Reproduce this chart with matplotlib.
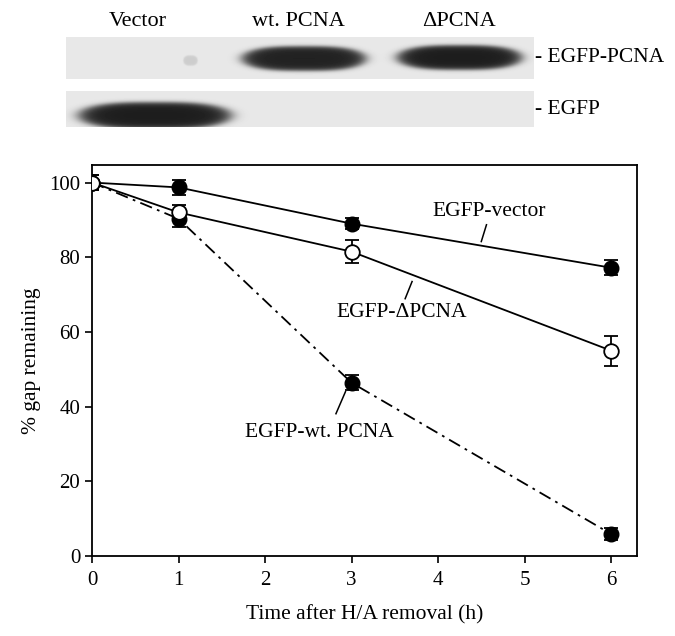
import matplotlib
matplotlib.use("Agg")
import matplotlib.pyplot as plt
import numpy as np

plt.rcParams['font.family'] = ['Liberation Serif', 'DejaVu Serif']

# --- data ---
hours = [0, 1, 3, 6]
vector_mean = [100, 98.7, 89.0, 77.2]
vector_err = [2.0, 2.1, 1.5, 2.0]
dpcna_mean = [100, 92.0, 81.5, 55.0]
dpcna_err = [2.0, 2.0, 3.0, 4.0]
wt_mean = [100, 90.3, 46.4, 5.9]
wt_err = [2.0, 2.1, 2.0, 1.5]

# blot (pixel units of the figure, top strip)
lane_names = ["Vector", "wt. PCNA", "\u0394PCNA"]
lane_x = [138, 298, 459]
row_names = ["- EGFP-PCNA", "- EGFP"]
row_top = [37, 91]
row_bottom = [79, 127]
# bands: (x0, x1, y centre, half height, darkness)
band_x0 = [243, 398, 80, 183]
band_x1 = [364, 520, 229, 197]
band_yc = [58, 57, 115, 60]
band_hh = [12, 12, 13, 5]
band_dark = [0.86, 0.88, 0.88, 0.12]

W, H = 675, 636
fig = plt.figure(figsize=(W / 100, H / 100), dpi=100)

# ---- blot panel ----
bx = fig.add_axes([0, 0, 1, 1])
bx.set_xlim(0, W)
bx.set_ylim(H, 0)
bx.axis('off')

xs = np.arange(66, 534)
ys = np.arange(row_top[0], row_bottom[1])
XX, YY = np.meshgrid(xs, ys)
img = np.ones(XX.shape)
for t, b in zip(row_top, row_bottom):
    inside = (YY >= t) & (YY < b)
    img[inside] = 0.91
for x0, x1, yc, hh, dk in zip(band_x0, band_x1, band_yc, band_hh, band_dark):
    cx = (x0 + x1) / 2
    rx = (x1 - x0) / 2
    d = np.abs((XX - cx) / rx) ** 3 + ((YY - yc) / hh) ** 2
    dens = dk / (1 + np.exp((d - 1) / 0.2))
    img = img * (1 - dens)
bx.imshow(img, cmap='gray', vmin=0, vmax=1, extent=(66, 534, row_bottom[1], row_top[0]),
          interpolation='bilinear', aspect='auto')
for name, x in zip(lane_names, lane_x):
    bx.text(x, 22, name, ha='center', va='center', fontsize=16)
for name, t, b in zip(row_names, row_top, row_bottom):
    bx.text(535, (t + b) / 2, name, ha='left', va='center', fontsize=15.5)

# ---- chart ----
ax = fig.add_axes([92 / W, 1 - 556 / H, (637 - 92) / W, (556 - 165) / H])
ax.errorbar(hours, vector_mean, yerr=vector_err, color='black', lw=1.3,
            marker='o', ms=10.5, mfc='black', mec='black', capsize=5, capthick=1.3,
            elinewidth=1.3, zorder=3)
ax.errorbar(hours, wt_mean, yerr=wt_err, color='black', lw=1.3, ls=(0, (7, 3, 1.5, 3)),
            marker='o', ms=10.5, mfc='black', mec='black', capsize=5, capthick=1.3,
            elinewidth=1.3, zorder=3)
ax.errorbar(hours, dpcna_mean, yerr=dpcna_err, color='black', lw=1.3,
            marker='o', ms=10.5, mfc='white', mec='black', mew=1.3, capsize=5,
            capthick=1.3, elinewidth=1.3, zorder=4)

# annotations with short leader lines
ax.text(4.59, 92.2, "EGFP-vector", ha='center', va='center', fontsize=15.5)
ax.plot([4.56, 4.50], [88.7, 84.2], color='black', lw=1.1)
ax.text(3.58, 65.1, "EGFP-\u0394PCNA", ha='center', va='center', fontsize=15.5)
ax.plot([3.70, 3.62], [73.5, 68.9], color='black', lw=1.1)
ax.text(2.63, 33.2, "EGFP-wt. PCNA", ha='center', va='center', fontsize=15.5)
ax.plot([2.82, 2.93], [38.1, 44.0], color='black', lw=1.1)

ax.set_xlim(0, 6.3)
ax.set_ylim(0, 104.7)
ax.set_xticks(range(0, 7))
ax.set_yticks(range(0, 101, 20))
ax.tick_params(direction='out', length=5, width=1.2, labelsize=15, top=False, right=False)
ax.tick_params(axis='x', pad=6)
for s in ax.spines.values():
    s.set_linewidth(1.3)
ax.set_xlabel("Time after H/A removal (h)", fontsize=15.5, labelpad=11)
ax.set_ylabel("% gap remaining", fontsize=15.5, labelpad=6)

fig.savefig("out.png", dpi=100)
